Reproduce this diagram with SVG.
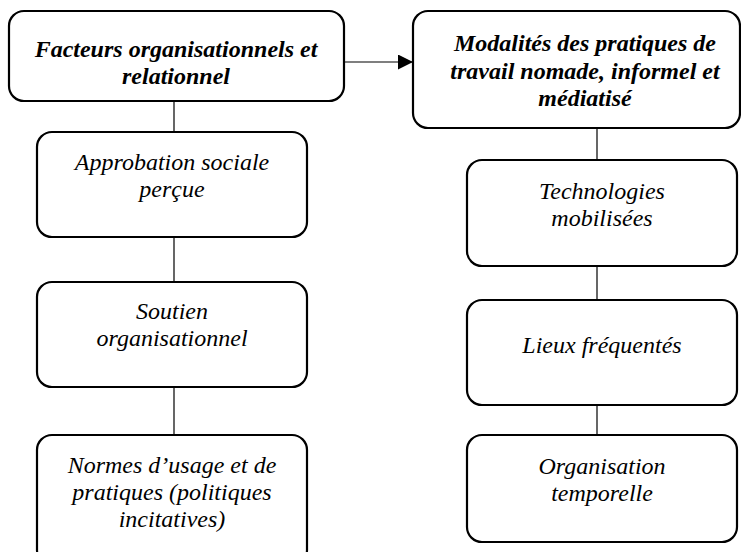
<svg xmlns="http://www.w3.org/2000/svg" width="741" height="552" viewBox="0 0 741 552">
<style>
.box{fill:#fff;stroke:#000;stroke-width:2.2}
.con{stroke:#000;stroke-width:1.2;fill:none}
text{font-family:'Liberation Serif','Times New Roman',Tinos,'DejaVu Serif','Noto Serif',serif;font-size:24px;font-style:italic;fill:#000;text-anchor:middle}
.b{font-weight:bold}
</style>
<defs>
<marker id="arr" markerWidth="15" markerHeight="15" refX="15" refY="7.5" orient="auto" markerUnits="userSpaceOnUse">
<path d="M0,0 L15,7.5 L0,15 Z" fill="#000"/>
</marker>
</defs>
<rect width="741" height="552" fill="#fff"/>
<g id="connectors">
<line class="con" x1="344" y1="62" x2="413" y2="62" marker-end="url(#arr)"/>
<line class="con" x1="174" y1="101" x2="174" y2="132"/>
<line class="con" x1="174" y1="237" x2="174" y2="282"/>
<line class="con" x1="174" y1="387" x2="174" y2="435"/>
<line class="con" x1="597" y1="128" x2="597" y2="160"/>
<line class="con" x1="597" y1="266" x2="597" y2="300"/>
<line class="con" x1="597" y1="405" x2="597" y2="435"/>
</g>
<g id="n-facteurs">
<rect class="box" x="9" y="11" width="335" height="90" rx="15"/>
<text class="b" x="176" y="57">Facteurs organisationnels et</text>
<text class="b" x="176" y="84">relationnel</text>
</g>
<g id="n-approbation">
<rect class="box" x="37" y="132" width="270" height="105" rx="15"/>
<text x="172" y="170">Approbation sociale</text>
<text x="172" y="197">perçue</text>
</g>
<g id="n-soutien">
<rect class="box" x="37" y="282" width="270" height="105" rx="15"/>
<text x="172" y="319">Soutien</text>
<text x="172" y="346">organisationnel</text>
</g>
<g id="n-normes">
<rect class="box" x="37" y="435" width="270" height="130" rx="15"/>
<text x="172" y="473">Normes d’usage et de</text>
<text x="172" y="500">pratiques (politiques</text>
<text x="172" y="527">incitatives)</text>
</g>
<g id="n-modalites">
<rect class="box" x="413" y="11" width="327" height="117" rx="15"/>
<text class="b" x="585" y="51">Modalités des pratiques de</text>
<text class="b" x="585" y="79">travail nomade, informel et</text>
<text class="b" x="585" y="106">médiatisé</text>
</g>
<g id="n-technologies">
<rect class="box" x="467" y="160" width="270" height="106" rx="15"/>
<text x="602" y="199">Technologies</text>
<text x="602" y="226">mobilisées</text>
</g>
<g id="n-lieux">
<rect class="box" x="467" y="300" width="270" height="105" rx="15"/>
<text x="602" y="353">Lieux fréquentés</text>
</g>
<g id="n-organisation">
<rect class="box" x="467" y="435" width="270" height="107" rx="15"/>
<text x="602" y="474">Organisation</text>
<text x="602" y="501">temporelle</text>
</g>
</svg>
